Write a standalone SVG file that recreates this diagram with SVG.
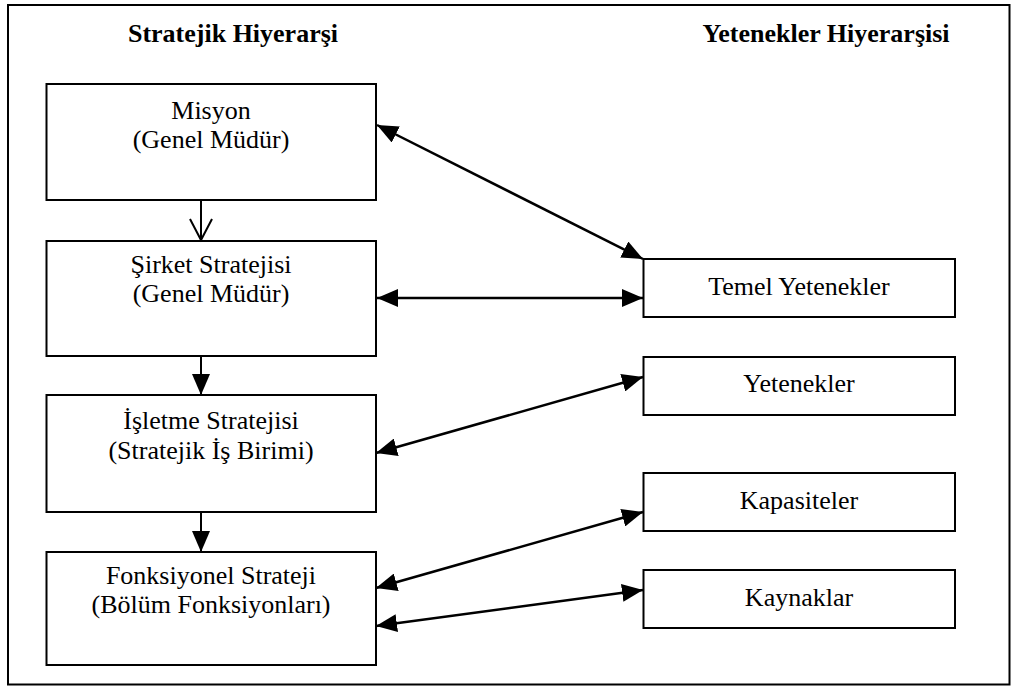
<svg xmlns="http://www.w3.org/2000/svg" width="1014" height="688" viewBox="0 0 1014 688">
  <style>
    .frame { fill: none; stroke: #000; stroke-width: 2; }
    .box { fill: #fff; stroke: #000; stroke-width: 2; }
    .lbl { font-family: "Liberation Serif", "Times New Roman", serif; font-size: 26px; fill: #000; text-anchor: middle; }
    .title { font-weight: bold; }
    .conn { fill: none; stroke: #000; stroke-width: 2.5; }
    .thin { fill: none; stroke: #000; stroke-width: 2; }
  </style>
  <defs>
    <marker id="head" viewBox="0 0 21 18" refX="21" refY="9" markerWidth="21" markerHeight="18" markerUnits="userSpaceOnUse" orient="auto-start-reverse">
      <path d="M0,0 L21,9 L0,18 Z" fill="#000"/>
    </marker>
  </defs>

  <rect width="1014" height="688" fill="#fff"/>
  <rect class="frame" x="8" y="5" width="1001.5" height="679.5"/>

  <!-- column headings -->
  <text class="lbl title" x="233" y="42">Stratejik Hiyerarşi</text>
  <text class="lbl title" x="826" y="42">Yetenekler Hiyerarşisi</text>

  <!-- strategic hierarchy -->
  <g id="misyon">
    <rect class="box" x="46.5" y="84" width="329.5" height="116"/>
    <text class="lbl" x="211" y="119">Misyon</text>
    <text class="lbl" x="211" y="148">(Genel Müdür)</text>
  </g>
  <g id="sirket-stratejisi">
    <rect class="box" x="46.5" y="241" width="329.5" height="115"/>
    <text class="lbl" x="211" y="273">Şirket Stratejisi</text>
    <text class="lbl" x="211" y="302">(Genel Müdür)</text>
  </g>
  <g id="isletme-stratejisi">
    <rect class="box" x="46.5" y="395" width="329.5" height="117"/>
    <text class="lbl" x="211" y="429">İşletme Stratejisi</text>
    <text class="lbl" x="211" y="459">(Stratejik İş Birimi)</text>
  </g>
  <g id="fonksiyonel-strateji">
    <rect class="box" x="46.5" y="552" width="329.5" height="113"/>
    <text class="lbl" x="211" y="584">Fonksiyonel Strateji</text>
    <text class="lbl" x="211" y="613">(Bölüm Fonksiyonları)</text>
  </g>

  <!-- capability hierarchy -->
  <g id="temel-yetenekler">
    <rect class="box" x="643.5" y="259" width="311.5" height="58"/>
    <text class="lbl" x="799" y="295">Temel Yetenekler</text>
  </g>
  <g id="yetenekler">
    <rect class="box" x="643.5" y="357" width="311.5" height="58"/>
    <text class="lbl" x="799" y="392">Yetenekler</text>
  </g>
  <g id="kapasiteler">
    <rect class="box" x="643.5" y="473" width="311.5" height="58"/>
    <text class="lbl" x="799" y="509">Kapasiteler</text>
  </g>
  <g id="kaynaklar">
    <rect class="box" x="643.5" y="570" width="311.5" height="58"/>
    <text class="lbl" x="799" y="606">Kaynaklar</text>
  </g>

  <g id="connectors">
    <!-- open-headed arrow from mission down to corporate strategy -->
    <line class="thin" x1="201" y1="200" x2="201" y2="240"/>
    <polyline class="thin" points="190,219 201,240 212,219"/>
    <!-- filled downward arrows -->
    <line class="thin" x1="201" y1="356" x2="201" y2="395" marker-end="url(#head)"/>
    <line class="thin" x1="201" y1="512" x2="201" y2="552" marker-end="url(#head)"/>
    <!-- two-way links between the hierarchies -->
    <line class="conn" x1="377" y1="125" x2="643" y2="259" marker-start="url(#head)" marker-end="url(#head)"/>
    <line class="conn" x1="377" y1="298" x2="643" y2="298" marker-start="url(#head)" marker-end="url(#head)"/>
    <line class="conn" x1="376" y1="453" x2="643" y2="377" marker-start="url(#head)" marker-end="url(#head)"/>
    <line class="conn" x1="376" y1="588" x2="643" y2="512" marker-start="url(#head)" marker-end="url(#head)"/>
    <line class="conn" x1="376" y1="626" x2="643" y2="590" marker-start="url(#head)" marker-end="url(#head)"/>
  </g>
</svg>
